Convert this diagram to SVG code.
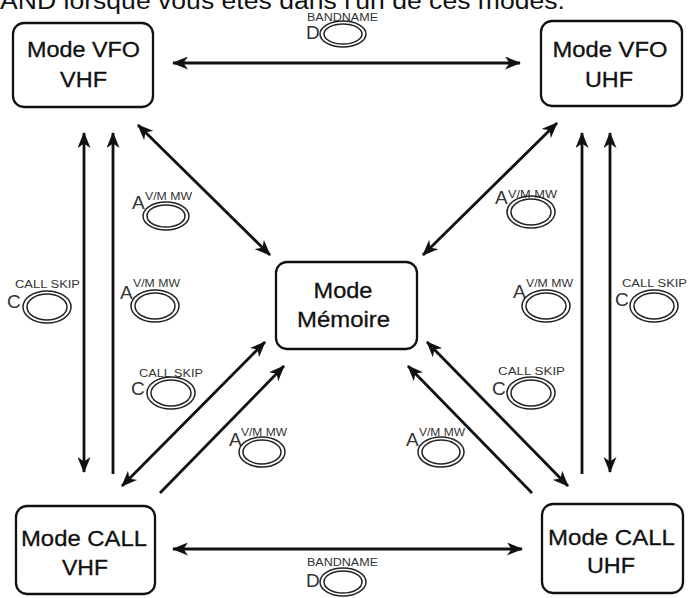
<svg xmlns="http://www.w3.org/2000/svg" width="689" height="598" viewBox="0 0 689 598">
<style>
.box{fill:#fff;stroke:#111;stroke-width:2.3}
.nt{font-family:"Liberation Sans",Arial,sans-serif;font-size:22px;fill:#111;stroke:#111;stroke-width:0.3;text-anchor:middle}
.cn{fill:none;stroke:#111;stroke-width:2.8}
.bo{fill:none;stroke:#222;stroke-width:1.5}
.lbl{font-family:"Liberation Sans",Arial,sans-serif;font-size:10px;fill:#333}
.key{font-family:"Liberation Sans",Arial,sans-serif;font-size:19px;fill:#333}
.hd{font-family:"Liberation Sans",Arial,sans-serif;font-size:23px;fill:#111}
</style>
<defs>
<marker id="ah" viewBox="0 0 16 13" refX="15" refY="6.5" markerWidth="16" markerHeight="13" markerUnits="userSpaceOnUse" orient="auto-start-reverse">
<path d="M0,0 L16,6.5 L0,13 L4.5,6.5 z" fill="#111"/>
</marker>
</defs>
<rect width="689" height="598" fill="#fff"/>
<text class="hd" x="0" y="9" textLength="565" lengthAdjust="spacingAndGlyphs">AND lorsque vous êtes dans l'un de ces modes.</text>

<g id="connectors">
<path class="cn" d="M173,63 L520,63" marker-start="url(#ah)" marker-end="url(#ah)"/>
<path class="cn" d="M173,549 L522,549" marker-start="url(#ah)" marker-end="url(#ah)"/>
<path class="cn" d="M84,133 L84,472" marker-start="url(#ah)" marker-end="url(#ah)"/>
<path class="cn" d="M113,474 L113,133" marker-end="url(#ah)"/>
<path class="cn" d="M610,133 L610,472" marker-start="url(#ah)" marker-end="url(#ah)"/>
<path class="cn" d="M582,474 L582,133" marker-end="url(#ah)"/>
<path class="cn" d="M138,125 L270,255" marker-start="url(#ah)" marker-end="url(#ah)"/>
<path class="cn" d="M557,123 L423,255" marker-start="url(#ah)" marker-end="url(#ah)"/>
<path class="cn" d="M122,486 L265,342" marker-start="url(#ah)" marker-end="url(#ah)"/>
<path class="cn" d="M160,493 L284,366" marker-end="url(#ah)"/>
<path class="cn" d="M568,486 L427,342" marker-start="url(#ah)" marker-end="url(#ah)"/>
<path class="cn" d="M532,493 L408,366" marker-end="url(#ah)"/>
</g>

<g id="vfo-vhf">
<rect class="box" x="13" y="23" width="140" height="84" rx="11"/>
<text class="nt" x="83.5" y="57" textLength="113" lengthAdjust="spacingAndGlyphs">Mode VFO</text>
<text class="nt" x="83.5" y="87" textLength="47" lengthAdjust="spacingAndGlyphs">VHF</text>
</g>
<g id="vfo-uhf">
<rect class="box" x="541" y="21" width="141" height="85" rx="11"/>
<text class="nt" x="610" y="57" textLength="115" lengthAdjust="spacingAndGlyphs">Mode VFO</text>
<text class="nt" x="609" y="87" textLength="48" lengthAdjust="spacingAndGlyphs">UHF</text>
</g>
<g id="memoire">
<rect class="box" x="276" y="262" width="141" height="87" rx="11"/>
<text class="nt" x="343" y="298" textLength="59" lengthAdjust="spacingAndGlyphs">Mode</text>
<text class="nt" x="343.5" y="327" textLength="93" lengthAdjust="spacingAndGlyphs">Mémoire</text>
</g>
<g id="call-vhf">
<rect class="box" x="16" y="506" width="139" height="88" rx="11"/>
<text class="nt" x="84" y="546" textLength="126" lengthAdjust="spacingAndGlyphs">Mode CALL</text>
<text class="nt" x="85" y="575" textLength="46" lengthAdjust="spacingAndGlyphs">VHF</text>
</g>
<g id="call-uhf">
<rect class="box" x="542" y="504" width="141" height="89" rx="11"/>
<text class="nt" x="611.5" y="545" textLength="127" lengthAdjust="spacingAndGlyphs">Mode CALL</text>
<text class="nt" x="611" y="573" textLength="48" lengthAdjust="spacingAndGlyphs">UHF</text>
</g>

<g id="btn-d-top">
<text class="lbl" x="307" y="21" textLength="71" lengthAdjust="spacingAndGlyphs">BANDNAME</text>
<text class="key" x="306" y="39">D</text>
<ellipse class="bo" cx="343" cy="34" rx="23" ry="13"/>
<ellipse class="bo" cx="343" cy="34" rx="19" ry="10"/>
</g>
<g id="btn-d-bottom">
<text class="lbl" x="307" y="566" textLength="71" lengthAdjust="spacingAndGlyphs">BANDNAME</text>
<text class="key" x="306" y="587">D</text>
<ellipse class="bo" cx="343" cy="582" rx="23" ry="14"/>
<ellipse class="bo" cx="343" cy="582" rx="19" ry="11"/>
</g>
<g id="btn-a-tl">
<text class="key" x="132" y="209">A</text>
<text class="lbl" x="145" y="200" textLength="47" lengthAdjust="spacingAndGlyphs">V/M MW</text>
<ellipse class="bo" cx="166" cy="216" rx="23" ry="14"/>
<ellipse class="bo" cx="166" cy="216" rx="19" ry="11"/>
</g>
<g id="btn-c-l">
<text class="lbl" x="15" y="288" textLength="65" lengthAdjust="spacingAndGlyphs">CALL SKIP</text>
<text class="key" x="7" y="308">C</text>
<ellipse class="bo" cx="47" cy="307" rx="24" ry="16"/>
<ellipse class="bo" cx="47" cy="307" rx="20" ry="13"/>
</g>
<g id="btn-a-ml">
<text class="key" x="120" y="299">A</text>
<text class="lbl" x="133" y="287" textLength="47" lengthAdjust="spacingAndGlyphs">V/M MW</text>
<ellipse class="bo" cx="155" cy="306" rx="24" ry="16"/>
<ellipse class="bo" cx="155" cy="306" rx="20" ry="13"/>
</g>
<g id="btn-c-ll">
<text class="lbl" x="139" y="377" textLength="64" lengthAdjust="spacingAndGlyphs">CALL SKIP</text>
<text class="key" x="131" y="395">C</text>
<ellipse class="bo" cx="171" cy="393" rx="24" ry="16"/>
<ellipse class="bo" cx="171" cy="393" rx="20" ry="13"/>
</g>
<g id="btn-a-bl">
<text class="key" x="229" y="446">A</text>
<text class="lbl" x="241" y="436" textLength="46" lengthAdjust="spacingAndGlyphs">V/M MW</text>
<ellipse class="bo" cx="262" cy="452" rx="23" ry="15"/>
<ellipse class="bo" cx="262" cy="452" rx="19" ry="12"/>
</g>
<g id="btn-a-tr">
<text class="key" x="495" y="204">A</text>
<text class="lbl" x="508" y="198" textLength="49" lengthAdjust="spacingAndGlyphs">V/M MW</text>
<ellipse class="bo" cx="531" cy="212" rx="24" ry="16"/>
<ellipse class="bo" cx="531" cy="212" rx="20" ry="13"/>
</g>
<g id="btn-a-mr">
<text class="key" x="513" y="298">A</text>
<text class="lbl" x="526" y="287" textLength="47" lengthAdjust="spacingAndGlyphs">V/M MW</text>
<ellipse class="bo" cx="546" cy="306" rx="24" ry="16"/>
<ellipse class="bo" cx="546" cy="306" rx="20" ry="13"/>
</g>
<g id="btn-c-r">
<text class="lbl" x="622" y="287" textLength="65" lengthAdjust="spacingAndGlyphs">CALL SKIP</text>
<text class="key" x="615" y="306">C</text>
<ellipse class="bo" cx="654" cy="306" rx="24" ry="16"/>
<ellipse class="bo" cx="654" cy="306" rx="20" ry="13"/>
</g>
<g id="btn-c-lr">
<text class="lbl" x="498" y="375" textLength="67" lengthAdjust="spacingAndGlyphs">CALL SKIP</text>
<text class="key" x="492" y="395">C</text>
<ellipse class="bo" cx="531" cy="393" rx="24" ry="16"/>
<ellipse class="bo" cx="531" cy="393" rx="20" ry="13"/>
</g>
<g id="btn-a-br">
<text class="key" x="406" y="446">A</text>
<text class="lbl" x="419" y="436" textLength="46" lengthAdjust="spacingAndGlyphs">V/M MW</text>
<ellipse class="bo" cx="441" cy="452" rx="23" ry="15"/>
<ellipse class="bo" cx="441" cy="452" rx="19" ry="12"/>
</g>
</svg>
